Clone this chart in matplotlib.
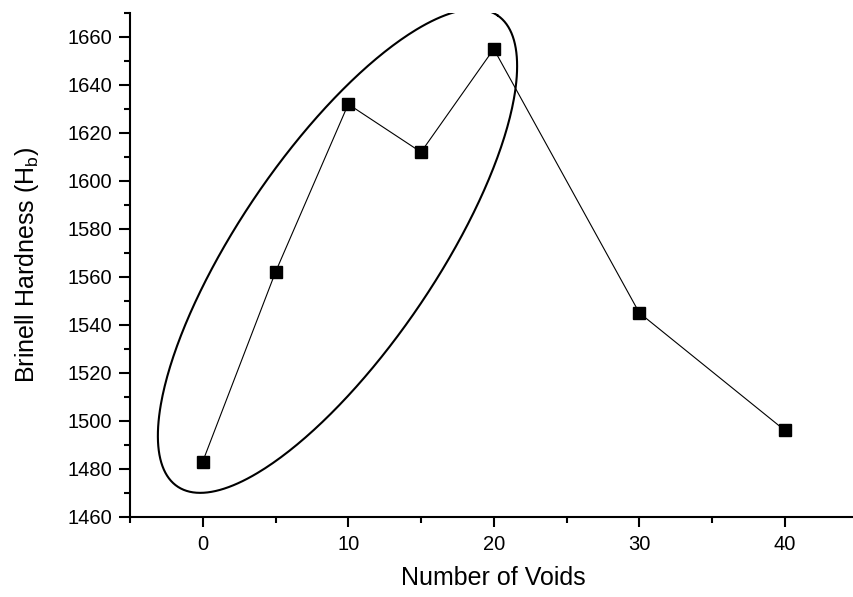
import numpy as np
import matplotlib
matplotlib.use("Agg")
import matplotlib.pyplot as plt
from matplotlib.ticker import MultipleLocator

plt.rcParams['font.family'] = ['Liberation Sans', 'DejaVu Sans']
plt.rcParams['mathtext.fontset'] = 'custom'
plt.rcParams['mathtext.rm'] = 'Liberation Sans'

# hardness vs number of voids
voids = [0, 5, 10, 15, 20, 30, 40]
hardness = [1483, 1562, 1632, 1612, 1655, 1545, 1496]

# ellipse marking the first five samples (data units)
ell_center = (9.26, 1570.8)
ell_major = (11.0, 98.2)
ell_minor = (5.6, -23.0)

fig = plt.figure(figsize=(8.54, 5.97), dpi=100)
ax = fig.add_axes([0.1522, 0.1345, 0.852, 0.8437])

ax.plot(voids, hardness, color='black', lw=0.8, marker='s', ms=9,
        mfc='black', mec='black', zorder=3)

t = np.linspace(0, 2 * np.pi, 400)
ex = ell_center[0] + ell_major[0] * np.cos(t) + ell_minor[0] * np.sin(t)
ey = ell_center[1] + ell_major[1] * np.cos(t) + ell_minor[1] * np.sin(t)
ax.plot(ex, ey, color='black', lw=1.5, zorder=2)

ax.set_xlim(-5, 45)
ax.set_ylim(1460, 1670)
ax.xaxis.set_major_locator(MultipleLocator(10))
ax.xaxis.set_minor_locator(MultipleLocator(5))
ax.yaxis.set_major_locator(MultipleLocator(20))
ax.yaxis.set_minor_locator(MultipleLocator(10))

for side in ['top', 'right']:
    ax.spines[side].set_visible(False)
for side in ['left', 'bottom']:
    ax.spines[side].set_linewidth(1.5)

ax.tick_params(axis='y', which='major', direction='out', length=8, width=1.5,
               labelsize=14.5, pad=5)
ax.tick_params(axis='y', which='minor', direction='out', length=4.5, width=1.5)
ax.tick_params(axis='x', which='major', direction='out', length=7, width=1.5,
               labelsize=14.5, pad=6)
ax.tick_params(axis='x', which='minor', direction='out', length=4, width=1.5)

ax.set_xlabel('Number of Voids', fontsize=18, labelpad=9)
ax.set_ylabel(r'Brinell Hardness (H$_\mathrm{b}$)', fontsize=18, labelpad=19)

fig.savefig('out.png', dpi=100)
